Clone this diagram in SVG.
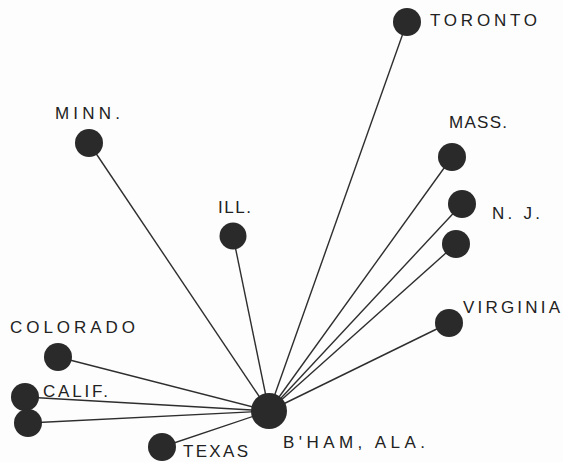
<svg xmlns="http://www.w3.org/2000/svg" width="563" height="462" viewBox="0 0 563 462">
<style>
.bg{fill:#fdfdfd}
.edge{stroke:#2e2e2e;stroke-width:1.4;fill:none}
.dot{fill:#2a2a2a}
.lbl{font-family:"Liberation Sans",Arial,sans-serif;font-size:17px;fill:#222}
</style>
<rect class="bg" x="0" y="0" width="563" height="462"/>
<g id="connectors">
<line class="edge" x1="269" y1="411" x2="407" y2="22"/>
<line class="edge" x1="269" y1="411" x2="89" y2="143"/>
<line class="edge" x1="269" y1="411" x2="452" y2="157"/>
<line class="edge" x1="269" y1="411" x2="462" y2="204"/>
<line class="edge" x1="269" y1="411" x2="456" y2="244"/>
<line class="edge" x1="269" y1="411" x2="233" y2="236"/>
<line class="edge" x1="269" y1="411" x2="449" y2="323"/>
<line class="edge" x1="269" y1="411" x2="58" y2="357"/>
<line class="edge" x1="269" y1="411" x2="25" y2="397"/>
<line class="edge" x1="269" y1="411" x2="28" y2="423"/>
<line class="edge" x1="269" y1="411" x2="162" y2="447"/>
</g>
<g id="toronto"><circle class="dot" cx="407" cy="22" r="14"/><text class="lbl" x="430" y="26" textLength="107" lengthAdjust="spacing">TORONTO</text></g>
<g id="minn"><circle class="dot" cx="89" cy="143" r="14"/><text class="lbl" x="55" y="119" textLength="65" lengthAdjust="spacing">MINN.</text></g>
<g id="mass"><circle class="dot" cx="452" cy="157" r="14"/><text class="lbl" x="449" y="128" textLength="58" lengthAdjust="spacing">MASS.</text></g>
<g id="nj"><circle class="dot" cx="462" cy="204" r="14"/><text class="lbl" x="492" y="219" textLength="48" lengthAdjust="spacing">N. J.</text></g>
<g id="unlabeled"><circle class="dot" cx="456" cy="244" r="14"/></g>
<g id="ill"><circle class="dot" cx="233" cy="236" r="13.5"/><text class="lbl" x="218" y="213" textLength="33" lengthAdjust="spacing">ILL.</text></g>
<g id="virginia"><circle class="dot" cx="449" cy="323" r="14"/><text class="lbl" x="463" y="313" textLength="97" lengthAdjust="spacing">VIRGINIA</text></g>
<g id="colorado"><circle class="dot" cx="58" cy="357" r="14"/><text class="lbl" x="10" y="333" textLength="125" lengthAdjust="spacing">COLORADO</text></g>
<g id="calif1"><circle class="dot" cx="25" cy="397" r="14"/><text class="lbl" x="43" y="397" textLength="65" lengthAdjust="spacing">CALIF.</text></g>
<g id="calif2"><circle class="dot" cx="28" cy="423" r="14"/></g>
<g id="texas"><circle class="dot" cx="162" cy="447" r="14"/><text class="lbl" x="183" y="457" textLength="65" lengthAdjust="spacing">TEXAS</text></g>
<g id="bham"><circle class="dot" cx="269" cy="411" r="18"/><text class="lbl" x="283" y="448" textLength="142" lengthAdjust="spacing">B'HAM, ALA.</text></g>
</svg>
